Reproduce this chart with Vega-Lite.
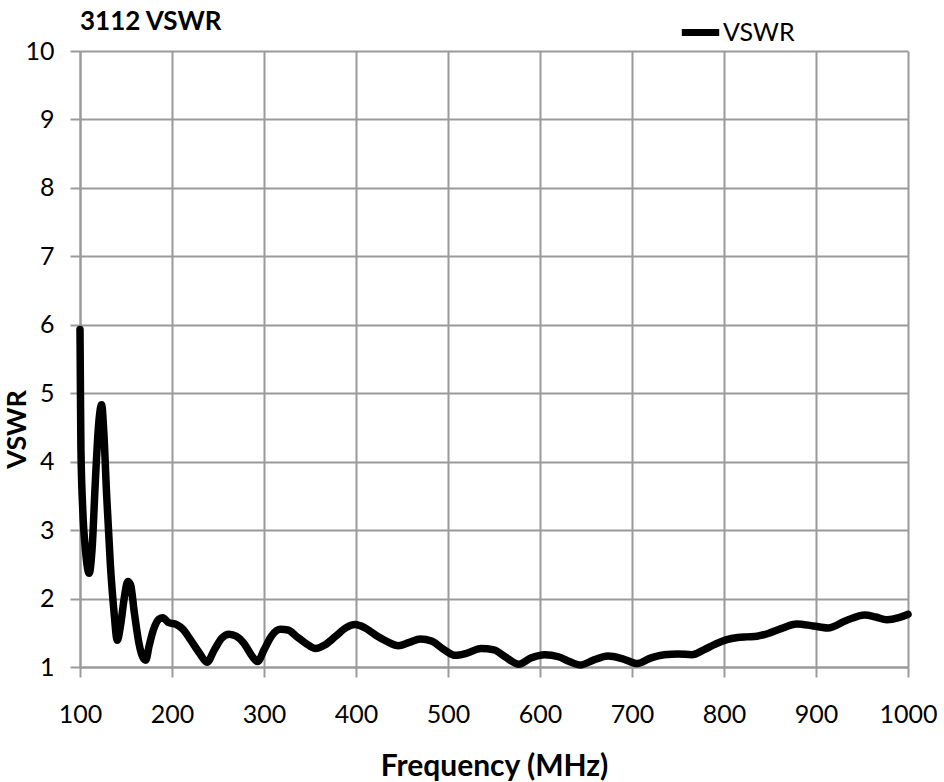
{
  "$schema": "https://vega.github.io/schema/vega-lite/v6.json",
  "width": 828,
  "height": 616,
  "autosize": {"type": "none"},
  "padding": {"left": 80, "top": 51, "right": 36, "bottom": 115},
  "background": "white",
  "config": {
    "font": "Lato",
    "view": {"stroke": null},
    "axis": {
      "gridColor": "#9a9a9a", "gridWidth": 2, "gridOpacity": 1,
      "domainColor": "#9a9a9a", "domainWidth": 2,
      "tickColor": "#9a9a9a", "tickWidth": 2, "tickSize": 10,
      "labelFont": "Lato", "labelFontSize": 25, "labelColor": "#000000",
      "titleFont": "Lato", "titleFontWeight": "bold", "titleColor": "#000000"
    }
  },
  "title": {
    "text": "3112 VSWR", "anchor": "start", "frame": "group", "orient": "top",
    "font": "Lato", "fontSize": 26, "fontWeight": "bold", "color": "#000000", "offset": 4, "baseline": "alphabetic", "dy": 50
  },
  "data": {"values": [
    {"f": 100, "v": 5.93}, {"f": 100.5, "v": 5.0}, {"f": 101, "v": 4.2}, {"f": 103, "v": 3.3},
    {"f": 106, "v": 2.7}, {"f": 110, "v": 2.37}, {"f": 113, "v": 2.7}, {"f": 117, "v": 3.8},
    {"f": 120, "v": 4.5}, {"f": 123.5, "v": 4.83}, {"f": 126, "v": 4.4}, {"f": 129, "v": 3.5},
    {"f": 133, "v": 2.5}, {"f": 137, "v": 1.8}, {"f": 140.5, "v": 1.39}, {"f": 144, "v": 1.6},
    {"f": 148, "v": 2.0}, {"f": 152, "v": 2.25}, {"f": 155, "v": 2.2}, {"f": 159, "v": 1.8},
    {"f": 164, "v": 1.35}, {"f": 168, "v": 1.15}, {"f": 171.5, "v": 1.1}, {"f": 175, "v": 1.3},
    {"f": 180, "v": 1.55}, {"f": 186, "v": 1.7}, {"f": 190, "v": 1.72}, {"f": 196, "v": 1.65},
    {"f": 205, "v": 1.62}, {"f": 212, "v": 1.55}, {"f": 220, "v": 1.4}, {"f": 230, "v": 1.2},
    {"f": 238, "v": 1.07}, {"f": 246, "v": 1.25}, {"f": 254, "v": 1.42}, {"f": 262, "v": 1.48},
    {"f": 270, "v": 1.45}, {"f": 278, "v": 1.35}, {"f": 286, "v": 1.18}, {"f": 293, "v": 1.08},
    {"f": 300, "v": 1.25}, {"f": 308, "v": 1.45}, {"f": 318, "v": 1.55}, {"f": 326, "v": 1.54},
    {"f": 335, "v": 1.45}, {"f": 345, "v": 1.35}, {"f": 356, "v": 1.27}, {"f": 366, "v": 1.32},
    {"f": 378, "v": 1.45}, {"f": 390, "v": 1.58}, {"f": 399, "v": 1.62}, {"f": 410, "v": 1.57},
    {"f": 422, "v": 1.46}, {"f": 434, "v": 1.37}, {"f": 446, "v": 1.31}, {"f": 458, "v": 1.36},
    {"f": 470, "v": 1.41}, {"f": 482, "v": 1.38}, {"f": 495, "v": 1.26}, {"f": 508, "v": 1.17},
    {"f": 520, "v": 1.2}, {"f": 536, "v": 1.27}, {"f": 550, "v": 1.25}, {"f": 562, "v": 1.15},
    {"f": 577, "v": 1.04}, {"f": 590, "v": 1.13}, {"f": 605, "v": 1.18}, {"f": 620, "v": 1.15},
    {"f": 632, "v": 1.08}, {"f": 644, "v": 1.03}, {"f": 658, "v": 1.1}, {"f": 674, "v": 1.16},
    {"f": 690, "v": 1.12}, {"f": 706, "v": 1.05}, {"f": 720, "v": 1.13}, {"f": 735, "v": 1.18},
    {"f": 750, "v": 1.19}, {"f": 765, "v": 1.18}, {"f": 778, "v": 1.25}, {"f": 790, "v": 1.33},
    {"f": 803, "v": 1.4}, {"f": 815, "v": 1.43}, {"f": 825, "v": 1.44}, {"f": 836, "v": 1.45},
    {"f": 848, "v": 1.49}, {"f": 862, "v": 1.56}, {"f": 879, "v": 1.63}, {"f": 897, "v": 1.6},
    {"f": 913, "v": 1.57}, {"f": 933, "v": 1.68}, {"f": 953, "v": 1.76}, {"f": 965, "v": 1.73},
    {"f": 977, "v": 1.69}, {"f": 990, "v": 1.72}, {"f": 1000, "v": 1.77}
  ]},
  "transform": [{"calculate": "'VSWR'", "as": "series"}],
  "mark": {"type": "line", "interpolate": "monotone", "strokeWidth": 7.5, "strokeCap": "round", "strokeJoin": "round"},
  "encoding": {
    "x": {
      "field": "f", "type": "quantitative", "title": "Frequency (MHz)",
      "scale": {"domain": [100, 1000], "nice": false, "zero": false},
      "axis": {"values": [100, 200, 300, 400, 500, 600, 700, 800, 900, 1000], "format": "d", "labelPadding": 25, "titlePadding": 24, "titleFontSize": 30, "labelFlush": false}
    },
    "y": {
      "field": "v", "type": "quantitative", "title": "VSWR",
      "scale": {"domain": [1, 10], "nice": false, "zero": false},
      "axis": {"values": [1, 2, 3, 4, 5, 6, 7, 8, 9, 10], "labelPadding": 16, "titleFontSize": 27, "titleX": -55, "titleY": 378, "titleBaseline": "alphabetic", "titleAngle": -90}
    },
    "color": {
      "field": "series", "type": "nominal", "title": null,
      "scale": {"range": ["#000000"]},
      "legend": {
        "orient": "none", "legendX": 598, "legendY": -41, "symbolType": "stroke",
        "symbolSize": 1400, "symbolStrokeWidth": 7, "labelFontSize": 25, "labelFont": "Lato",
        "labelColor": "#000000", "labelOffset": 0
      }
    }
  }
}
